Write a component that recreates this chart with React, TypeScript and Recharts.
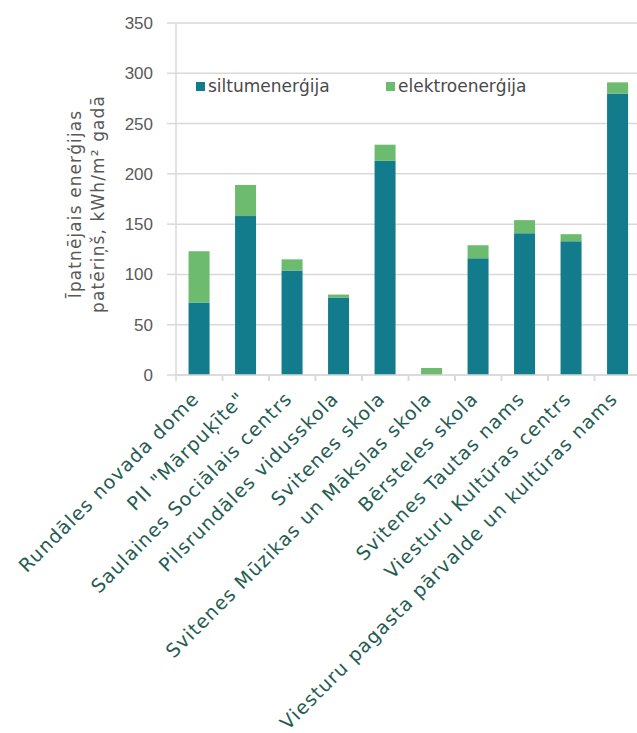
import { Bar, BarChart, CartesianGrid, XAxis, YAxis } from "recharts"

const categories = [
  "Rundāles novada dome",
  "PII \"Mārpuķīte\"",
  "Saulaines Sociālais centrs",
  "Pilsrundāles vidusskola",
  "Svitenes skola",
  "Svitenes Mūzikas un Mākslas skola",
  "Bērsteles skola",
  "Svitenes Tautas nams",
  "Viesturu Kultūras centrs",
  "Viesturu pagasta pārvalde un kultūras nams",
]
const siltumenergija = [72, 158, 104, 77, 213, 0, 116, 141, 133, 280]
const elektroenergija = [51, 31, 11, 3, 16, 7, 13, 13, 7, 11]
const yTicks = [0, 50, 100, 150, 200, 250, 300, 350]

const TEAL = "#127c8c"
const GREEN = "#6cbb6e"
const GRID = "#d9d9d9"
const FONT = "'DejaVu Sans', sans-serif"

const data = categories.map((name, i) => ({
  name,
  siltum: siltumenergija[i],
  elektro: elektroenergija[i],
}))

// rotated category label + small tick marks on the band edges
function CategoryTick({ x, y, payload }: any) {
  const half = payload.offset || 23
  const ax = x + 1
  const ay = y + 25
  return (
    <g>
      <line x1={x - half} x2={x - half} y1={y} y2={y + 6} stroke={GRID} strokeWidth={1.5} />
      <line x1={x + half} x2={x + half} y1={y} y2={y + 6} stroke={GRID} strokeWidth={1.5} />
      <text
        x={ax}
        y={ay}
        transform={`rotate(-45, ${ax}, ${ay})`}
        textAnchor="end"
        fontFamily={FONT}
        fontSize={19}
        letterSpacing={1.1}
        fill="#245c52"
      >
        {payload.value}
      </text>
    </g>
  )
}

function YLabel() {
  const cy = 204
  return (
    <g fontFamily={FONT} fontSize={17} fill="#595959" textAnchor="middle" letterSpacing={1.1}>
      <text x={81} y={cy} transform={`rotate(-90, 81, ${cy})`}>
        Īpatnējais enerģijas
      </text>
      <text x={104} y={cy} transform={`rotate(-90, 104, ${cy})`}>
        patēriņš, kWh/m² gadā
      </text>
    </g>
  )
}

const legendItems = [
  { label: "siltumenerģija", color: TEAL, left: 196 },
  { label: "elektroenerģija", color: GREEN, left: 386 },
]

export default function App() {
  return (
    <div
      style={{
        position: "absolute",
        left: 0,
        top: 0,
        width: 637,
        height: 733,
        overflow: "hidden",
        background: "#ffffff",
      }}
    >
      <BarChart
        width={650}
        height={733}
        data={data}
        margin={{ top: 23, right: 9, bottom: 0, left: 0 }}
        barCategoryGap="27%"
      >
        <CartesianGrid vertical={false} stroke={GRID} strokeWidth={1.5} />
        <XAxis
          dataKey="name"
          interval={0}
          height={358}
          tick={<CategoryTick />}
          tickLine={false}
          tickSize={0}
          tickMargin={0}
          axisLine={{ stroke: GRID, strokeWidth: 1.5 }}
        />
        <YAxis
          width={176}
          domain={[0, 350]}
          ticks={yTicks}
          tickSize={9}
          tickMargin={14}
          tickLine={{ stroke: GRID, strokeWidth: 1.5 }}
          axisLine={{ stroke: GRID, strokeWidth: 1.5 }}
          tick={{ fontFamily: "'Liberation Sans Narrow', 'Liberation Sans', sans-serif", fontSize: 17, fill: "#595959" }}
          label={<YLabel />}
        />
        <Bar dataKey="siltum" stackId="a" fill={TEAL} isAnimationActive={false} />
        <Bar dataKey="elektro" stackId="a" fill={GREEN} isAnimationActive={false} />
      </BarChart>
      {legendItems.map((item) => (
        <div
          key={item.label}
          style={{
            position: "absolute",
            left: item.left,
            top: 76,
            display: "flex",
            alignItems: "center",
            fontFamily: FONT,
            fontSize: 17,
            color: "#4a4a4a",
            whiteSpace: "nowrap",
          }}
        >
          <span style={{ width: 9, height: 9, background: item.color, marginRight: 3 }} />
          {item.label}
        </div>
      ))}
    </div>
  )
}
